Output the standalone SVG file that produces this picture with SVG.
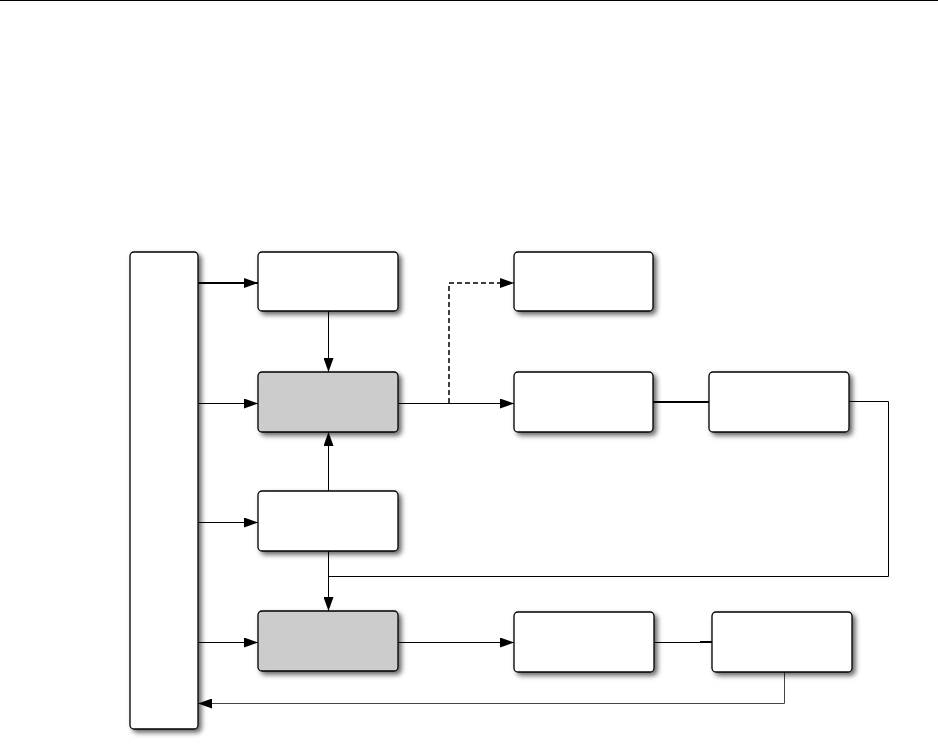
<svg xmlns="http://www.w3.org/2000/svg" width="938" height="748" viewBox="0 0 938 748">
<style>
.n{fill:#fff;stroke:#000;stroke-width:1.3;filter:url(#sh)}
.g{fill:#ccc}
.c{fill:none;stroke:#000;stroke-width:1}
</style>
<defs>
<filter id="sh" x="-20%" y="-20%" width="150%" height="150%">
<feDropShadow dx="3" dy="3" stdDeviation="2.5" flood-color="#000" flood-opacity="0.6"/>
</filter>
<marker id="ar" viewBox="0 0 14 10" refX="14" refY="5" markerWidth="14" markerHeight="10" markerUnits="userSpaceOnUse" orient="auto">
<path d="M0,0 L14,5 L0,10 Z" fill="#000"/>
</marker>
</defs>
<rect width="938" height="748" fill="#fff"/>
<line x1="0" y1="0.5" x2="938" y2="0.5" stroke="#000" stroke-width="1.2"/>
<g id="connectors">
<path class="c" style="stroke-width:2" d="M198 283 H258" marker-end="url(#ar)"/>
<path class="c" d="M198 403.5 H258" marker-end="url(#ar)"/>
<path class="c" d="M198 522.5 H258" marker-end="url(#ar)"/>
<path class="c" d="M198 642.5 H258" marker-end="url(#ar)"/>
<path class="c" d="M328.5 311 V372" marker-end="url(#ar)"/>
<path class="c" d="M328.5 491 V432" marker-end="url(#ar)"/>
<path class="c" d="M328.5 551 V611" marker-end="url(#ar)"/>
<path class="c" d="M398 403.5 H514" marker-end="url(#ar)"/>
<path class="c" style="stroke-width:1.5;stroke-dasharray:5 3" d="M449 403 V283 H514" marker-end="url(#ar)"/>
<path class="c" style="stroke-width:2" d="M653 402 H709"/>
<path class="c" d="M849 401.5 H888.5 V576.5 H328.5"/>
<path class="c" d="M398 642.5 H514" marker-end="url(#ar)"/>
<path class="c" d="M654 642.5 H712"/>
<path class="c" style="stroke-width:2" d="M700 642 H712"/>
<path class="c" style="stroke:#444" d="M784.5 672 V703.5 H198" marker-end="url(#ar)"/>
</g>
<g id="n0"><rect class="n" x="130" y="252" width="68" height="477" rx="4"/></g>
<g id="n1"><rect class="n" x="258" y="252" width="140" height="59" rx="4"/></g>
<g id="n2"><rect class="n g" x="258" y="372" width="140" height="60" rx="4"/></g>
<g id="n3"><rect class="n" x="258" y="491" width="140" height="60" rx="4"/></g>
<g id="n4"><rect class="n g" x="258" y="611" width="140" height="60" rx="4"/></g>
<g id="n5"><rect class="n" x="514" y="252" width="139" height="59" rx="4"/></g>
<g id="n6"><rect class="n" x="514" y="372" width="139" height="60" rx="4"/></g>
<g id="n7"><rect class="n" x="709" y="372" width="140" height="60" rx="4"/></g>
<g id="n8"><rect class="n" x="514" y="612" width="140" height="60" rx="4"/></g>
<g id="n9"><rect class="n" x="712" y="612" width="140" height="60" rx="4"/></g>
</svg>
